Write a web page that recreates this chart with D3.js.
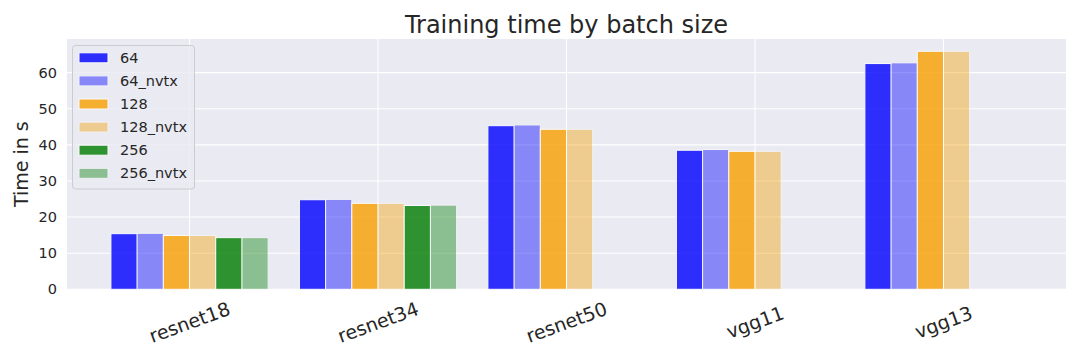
<!DOCTYPE html>
<html><head><meta charset="utf-8">
<script src="https://cdn.jsdelivr.net/npm/d3@7"></script>
<style>body{margin:0;background:#fff}svg{display:block;font-family:"DejaVu Sans",sans-serif}</style>
</head><body><svg id="c" width="1080" height="360"></svg>
<script>
const categories = ["resnet18","resnet34","resnet50","vgg11","vgg13"];
const seriesNames = ["64","64_nvtx","128","128_nvtx","256","256_nvtx"];
const s64      = [15.4, 24.8, 45.3, 38.5, 62.5];
const s64nvtx  = [15.5, 24.9, 45.5, 38.7, 62.7];
const s128     = [14.9, 23.8, 44.3, 38.2, 65.9];
const s128nvtx = [14.9, 23.8, 44.3, 38.2, 65.9];
const s256     = [14.3, 23.2, null, null, null];
const s256nvtx = [14.3, 23.3, null, null, null];
const yTicks = [0,10,20,30,40,50,60];
const seriesValues = [s64, s64nvtx, s128, s128nvtx, s256, s256nvtx];
const seriesColors = ["#0000ff","#0000ff","#f8a000","#f5a000","#007d00","#007d00"];
const seriesAlpha = [0.8,0.42,0.8,0.4,0.8,0.4];

const svg = d3.select("#c");
const L=67,R=1066,T=39,B=289.3;
const x = d3.scalePoint().domain(categories).range([L,R]).padding(0.65);
const inner = d3.scaleBand().domain(seriesNames).range([-78.6,78.6]).padding(0);
const y = d3.scaleLinear().domain([0,69.3]).range([B,T]);
const ink="#262626";

svg.append("rect").attr("x",L).attr("y",T).attr("width",R-L).attr("height",B-T).attr("fill","#eaeaf2");
// grid
svg.append("g").selectAll("line").data(yTicks).join("line")
  .attr("x1",L).attr("x2",R).attr("y1",d=>y(d)).attr("y2",d=>y(d))
  .attr("stroke","#fff").attr("stroke-width",1.1);
svg.append("g").selectAll("line").data(categories).join("line")
  .attr("x1",d=>x(d)).attr("x2",d=>x(d)).attr("y1",T).attr("y2",B)
  .attr("stroke","#fff").attr("stroke-width",1.1);

// bars
seriesNames.forEach((s,si)=>{
  svg.append("g").selectAll("rect")
    .data(categories.map((c,ci)=>({c,v:seriesValues[si][ci]})).filter(d=>d.v!=null))
    .join("rect")
    .attr("x",d=>x(d.c)+inner(s))
    .attr("width",inner.bandwidth())
    .attr("y",d=>y(d.v))
    .attr("height",d=>y(0)-y(d.v))
    .attr("fill",seriesColors[si])
    .attr("stroke","#fff").attr("stroke-width",1)
    .attr("opacity",seriesAlpha[si]);
});

// y axis
const ya = svg.append("g").attr("transform",`translate(${L},0)`)
  .call(d3.axisLeft(y).tickValues(yTicks).tickSize(0).tickPadding(10));
ya.select(".domain").remove();
ya.selectAll("text").attr("font-size",14.5).attr("fill",ink).attr("font-family","DejaVu Sans");

// x labels
svg.append("g").selectAll("text").data(categories).join("text")
  .attr("transform",d=>`translate(${x(d)},322) rotate(-20)`)
  .attr("text-anchor","middle").attr("dominant-baseline","central")
  .attr("font-size",19).attr("fill",ink).text(d=>d);

// titles
svg.append("text").attr("x",(L+R)/2).attr("y",33).attr("text-anchor","middle")
  .attr("font-size",24).attr("fill",ink).text("Training time by batch size");
svg.append("text").attr("transform",`translate(28,${(T+B)/2}) rotate(-90)`)
  .attr("text-anchor","middle").attr("font-size",19).attr("fill",ink).text("Time in s");

// legend
const lg = svg.append("g");
lg.append("rect").attr("x",72.5).attr("y",45.5).attr("width",122).attr("height",143.5).attr("rx",3)
  .attr("fill","#eaeaf2").attr("fill-opacity",0.8).attr("stroke","#cccccc").attr("stroke-width",1);
const rowY = d3.scaleLinear().domain([0,5]).range([57.8,173.3]);
seriesNames.forEach((s,i)=>{
  lg.append("rect").attr("x",79).attr("y",rowY(i)-5).attr("width",29).attr("height",10)
    .attr("fill",seriesColors[i]).attr("stroke","#fff").attr("stroke-width",1).attr("opacity",seriesAlpha[i]);
  lg.append("text").attr("x",120).attr("y",rowY(i)).attr("dominant-baseline","central")
    .attr("font-size",14.5).attr("fill",ink).text(s);
});
</script></body></html>
